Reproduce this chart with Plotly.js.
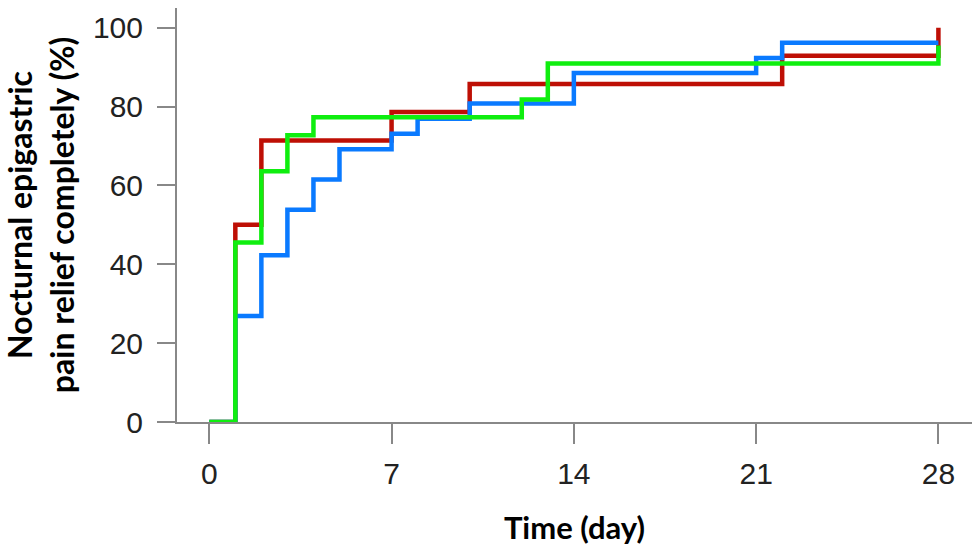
<!DOCTYPE html>
<html>
<head>
<meta charset="utf-8">
<script src="https://cdn.plot.ly/plotly-3.0.1.min.js"></script>
<style>
  html, body { margin: 0; padding: 0; background: #fff; }
  #chart { width: 976px; height: 554px; }
</style>
</head>
<body>
<div id="chart"></div>
<script>
// step points (day, % relieved)
var redDays = [0, 1, 2, 7, 10, 22, 28];
var redPct = [0, 50, 71.4, 78.6, 85.7, 92.9, 100];

var blueDays = [0, 1, 2, 3, 4, 5, 7, 8, 10, 14, 21, 22, 28];
var bluePct = [0, 26.9, 42.3, 53.8, 61.5, 69.2, 73.1, 76.9, 80.8, 88.5, 92.3, 96.2, 96.2];

var greenDays = [0, 1, 2, 3, 4, 12, 13, 28];
var greenPct = [0, 45.5, 63.6, 72.7, 77.3, 81.8, 90.9, 95.5];

var xTicks = [0, 7, 14, 21, 28];
var yTicks = [0, 20, 40, 60, 80, 100];

function stepTrace(x, y, color) {
    return {
        x: x,
        y: y,
        type: "scatter",
        mode: "lines",
        line: {shape: "hv", color: color, width: 4.5},
        cliponaxis: false,
        hoverinfo: "x+y"
    };
}

var data = [
    stepTrace(redDays, redPct, "rgb(190,15,5)"),
    stepTrace(blueDays, bluePct, "rgb(10,122,255)"),
    stepTrace(greenDays, greenPct, "rgb(15,238,15)")
];

var tickFont = {family: "Liberation Sans, Arial, sans-serif", size: 30, color: "#222"};

var layout = {
    width: 976,
    height: 554,
    margin: {l: 177, r: 4, t: 8, b: 132},
    paper_bgcolor: "#fff",
    plot_bgcolor: "#fff",
    showlegend: false,
    xaxis: {
        range: [-1.24, 29.29],
        tickvals: xTicks,
        ticks: "outside",
        ticklen: 20,
        tickwidth: 2,
        tickcolor: "#888",
        ticklabelstandoff: 4,
        showline: true,
        linecolor: "#888",
        linewidth: 2,
        showgrid: false,
        zeroline: false,
        tickfont: tickFont,
        title: {
            text: "Time (day)",
            font: {family: "Lato, sans-serif", size: 31, color: "#000", weight: "bold"},
            standoff: 28
        }
    },
    yaxis: {
        range: [0, 105],
        tickvals: yTicks,
        ticks: "outside",
        ticklen: 18,
        tickwidth: 2,
        tickcolor: "#888",
        ticklabelstandoff: 8,
        showline: true,
        linecolor: "#888",
        linewidth: 2,
        showgrid: false,
        zeroline: false,
        tickfont: tickFont,
        title: {
            text: "Nocturnal epigastric<br>pain relief completely (%)",
            font: {family: "Lato, sans-serif", size: 32, color: "#000", weight: "bold"},
            standoff: 12
        }
    }
};

Plotly.newPlot("chart", data, layout, {displayModeBar: false, staticPlot: true});
</script>
</body>
</html>
